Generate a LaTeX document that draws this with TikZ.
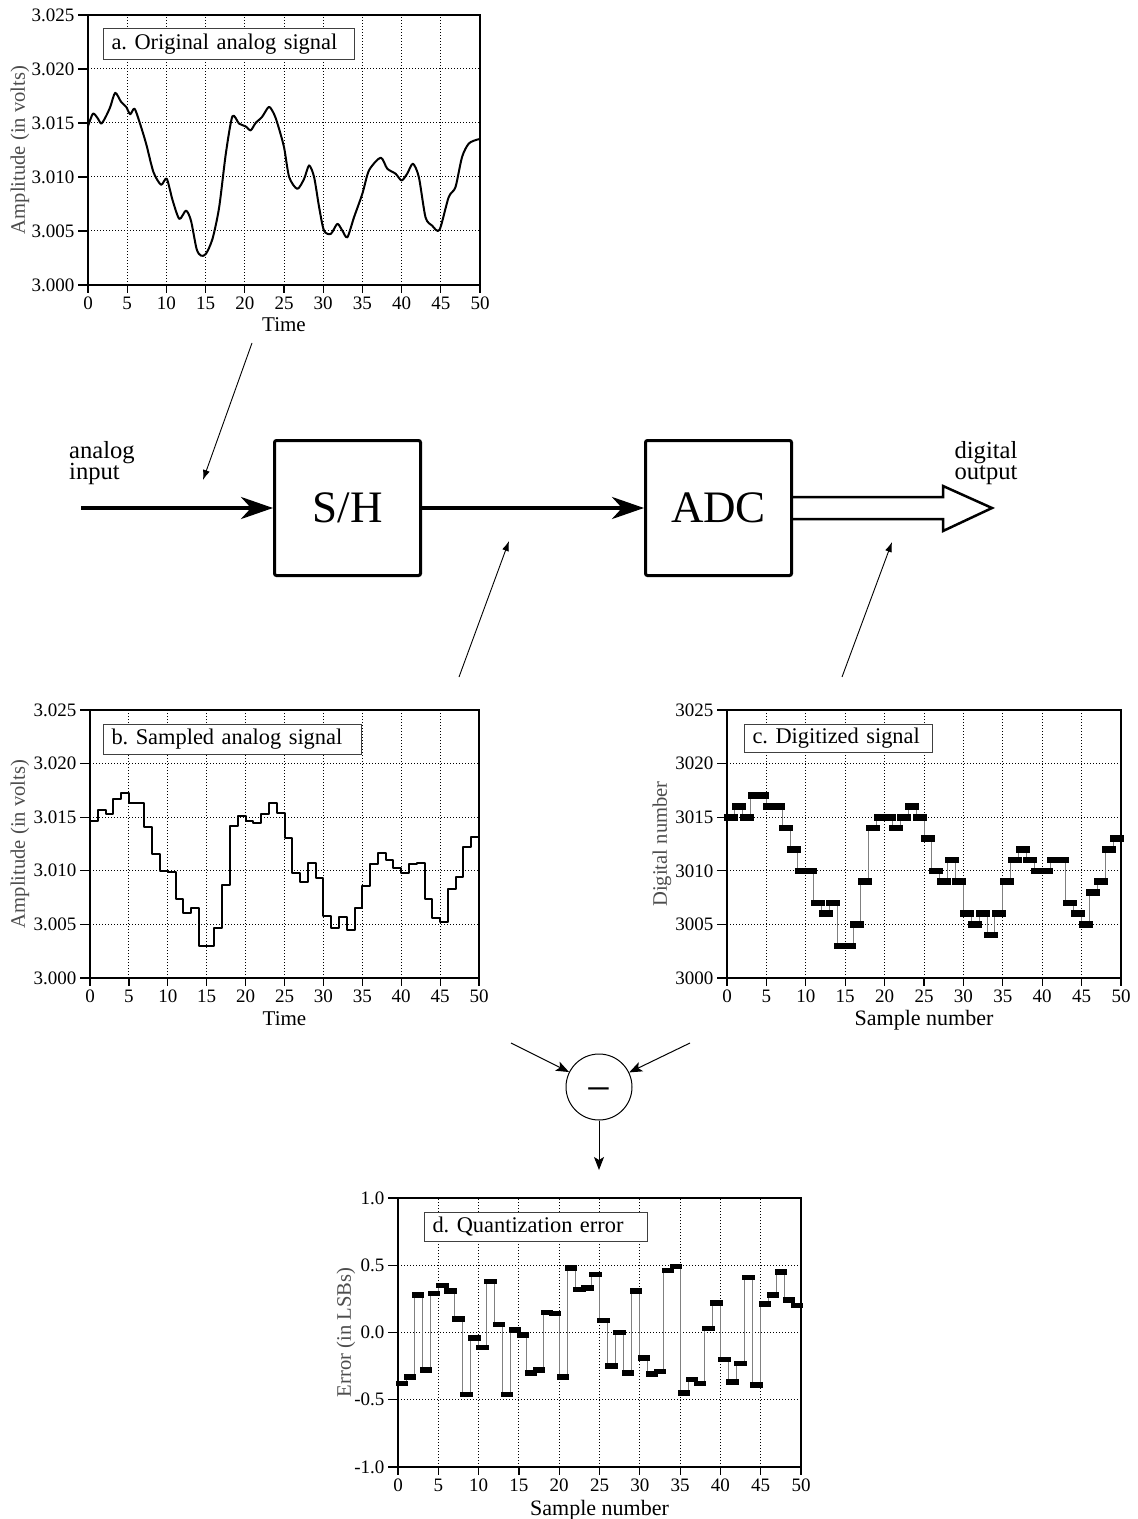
\documentclass[tikz,border=0pt]{standalone}
\usepackage{fontspec}
\setmainfont{Liberation Serif}
\usetikzlibrary{arrows.meta,positioning}
\frenchspacing

\begin{document}
\begin{tikzpicture}[x=0.5pt,y=-0.5pt]
\tikzset{
  axisframe/.style={line width=0.6pt},
  gridline/.style={line width=0.5pt,dash pattern=on 0.5pt off 1pt},
  ticklabel/.style={font=\fontsize{9.5}{10}\selectfont,inner sep=1.5pt},
  axislabel/.style={font=\fontsize{10.5}{12}\selectfont,anchor=base},
  ylabel/.style={font=\fontsize{10.3}{12}\selectfont,text=black!70,rotate=90},
  legend/.style={draw=black!75,fill=white,line width=0.5pt,anchor=north west,inner xsep=4pt,inner ysep=0pt,align=left,font=\fontsize{11.2}{13}\selectfont},
  signal/.style={line width=1pt,line join=round},
  stepgray/.style={line width=0.5pt,black!50},
  cbar/.style={fill,inner sep=0pt,minimum width=7pt,minimum height=3.3pt},
  dbar/.style={fill,inner sep=0pt,minimum width=6.2pt,minimum height=2.8pt},
  block/.style={draw,line width=1.5pt,rounded corners=1pt,minimum width=73pt,minimum height=67.5pt,inner sep=0pt,font=\fontsize{22.5}{24}\selectfont},
  iolabel/.style={align=left,inner sep=0pt,font=\fontsize{12.3}{10.8}\selectfont},
  wire/.style={line width=2pt,-{Stealth[length=16pt,width=11pt,inset=5pt]}},
  bus/.style={line width=1.25pt,line join=miter},
  pointer/.style={line width=0.45pt,-{Latex[length=5pt,width=3.5pt]}},
  subarrow/.style={line width=0.5pt,-{Stealth[length=6.5pt,width=5pt,inset=1.5pt]}}
}
% digital number (minus 3000) / quantization error, samples 0..49
\def\samples{15/-0.38,16/-0.33,15/0.28,17/-0.28,17/0.29,16/0.35,16/0.31,14/0.10,12/-0.46,10/-0.04,
10/-0.11,7/0.38,6/0.06,7/-0.46,3/0.02,3/-0.02,5/-0.30,9/-0.28,14/0.15,15/0.14,
15/-0.33,14/0.48,15/0.32,16/0.33,15/0.43,13/0.09,10/-0.25,9/0.00,11/-0.30,9/0.31,
6/-0.19,5/-0.31,6/-0.29,4/0.46,6/0.49,9/-0.45,11/-0.35,12/-0.38,11/0.03,10/0.22,
10/-0.20,11/-0.37,11/-0.23,7/0.41,6/-0.39,5/0.21,8/0.28,9/0.45,12/0.24,13/0.20}
\useasboundingbox (0,0) rectangle (1138,1519);

% a. original analog signal
\begin{scope}[shift={(88,285)},x=3.92pt,y=5.4pt]
\foreach \i in {5,10,...,45} \draw[gridline] (\i,0) -- (\i,25);
\foreach \j in {5,10,15,20} \draw[gridline] (0,\j) -- (50,\j);
\draw[axisframe] (0,0) rectangle (50,25);
\foreach \i in {0,5,...,50} \draw[axisframe] (\i,0) -- ++(0pt,-4pt) node[below,ticklabel] {\i};
\foreach \j/\lab in {0/3.000,5/3.005,10/3.010,15/3.015,20/3.020,25/3.025}
  \draw[axisframe] (0,\j) -- ++(-5pt,0pt) node[left,ticklabel] {\lab};
\draw[signal] plot[smooth,tension=0.45] coordinates {(0,14.7) (0.64,15.87) (1.27,15.4) (1.7,14.94)
  (2.25,15.56) (2.84,16.49) (3.47,17.79) (4.23,16.95) (4.87,16.49) (5.38,15.81) (5.93,16.33)
  (6.57,15.09) (7.41,13.09) (8.35,10.45) (9.32,9.28) (10.04,9.84) (10.8,7.82) (11.65,6.12)
  (12.5,6.89) (13.13,5.97) (13.85,3.34) (14.4,2.72) (15.03,2.87) (15.88,4.27) (16.73,7.2)
  (17.58,12.16) (18.42,15.62) (19.27,14.94) (20.1,14.69) (20.75,14.32) (21.38,15.0) (22.2,15.56)
  (23.07,16.49) (23.7,15.87) (24.17,14.94) (25.0,12.77) (25.66,9.99) (26.7,8.9) (27.57,9.84)
  (28.2,11.07) (28.84,9.99) (29.48,7.2) (30.1,5.04) (30.97,4.73) (31.8,5.66) (32.44,5.04)
  (33.08,4.42) (33.93,6.27) (34.99,8.44) (35.84,10.61) (37.33,11.79) (38.17,10.77) (39.24,10.3)
  (40.0,9.68) (40.71,10.3) (41.44,11.23) (42.2,9.99) (43.05,6.27) (43.89,5.5) (44.83,5.1)
  (46.0,8.13) (46.87,9.06) (47.71,11.85) (48.56,13.09) (49.62,13.46) (50,13.5)};
\node[axislabel,yshift=-23.5pt] (a_xlab) at (25,0) {Time};
\node[ylabel] (a_ylab) at ([xshift=-34pt]0,12.5) {Amplitude (in volts)};
\end{scope}
\node[legend,minimum height=15.5pt,text width=117.5pt] (a_leg) at (103,28) {\mbox{a. Original analog signal}};

% b. sampled analog signal
\begin{scope}[shift={(90,978)},x=3.89pt,y=5.36pt]
\foreach \i in {5,10,...,45} \draw[gridline] (\i,0) -- (\i,25);
\foreach \j in {5,10,15,20} \draw[gridline] (0,\j) -- (50,\j);
\draw[axisframe] (0,0) rectangle (50,25);
\foreach \i in {0,5,...,50} \draw[axisframe] (\i,0) -- ++(0pt,-4pt) node[below,ticklabel] {\i};
\foreach \j/\lab in {0/3.000,5/3.005,10/3.010,15/3.015,20/3.020,25/3.025}
  \draw[axisframe] (0,\j) -- ++(-5pt,0pt) node[left,ticklabel] {\lab};
\draw[signal] (0,14.62) foreach \dn/\er [count=\n from 0] in \samples
  { -- (\n,{\dn+(\er)}) -- ({\n+1},{\dn+(\er)}) };
\node[axislabel,yshift=-23.5pt] (b_xlab) at (25,0) {Time};
\node[ylabel] (b_ylab) at ([xshift=-35pt]0,12.5) {Amplitude (in volts)};
\end{scope}
\node[legend,minimum height=15pt,text width=121pt] (b_leg) at (103,724) {\mbox{b. Sampled analog signal}};

% c. digitized signal
\begin{scope}[shift={(727,978)},x=3.94pt,y=5.36pt]
\foreach \i in {5,10,...,45} \draw[gridline] (\i,0) -- (\i,25);
\foreach \j in {5,10,15,20} \draw[gridline] (0,\j) -- (50,\j);
\draw[axisframe] (0,0) rectangle (50,25);
\foreach \i in {0,5,...,50} \draw[axisframe] (\i,0) -- ++(0pt,-4pt) node[below,ticklabel] {\i};
\foreach \j/\lab in {0/3000,5/3005,10/3010,15/3015,20/3020,25/3025}
  \draw[axisframe] (0,\j) -- ++(-5pt,0pt) node[left,ticklabel] {\lab};
\draw[stepgray] (0,15) foreach \dn/\er [count=\n from 0] in \samples { -- (\n,\dn) -- ({\n+1},\dn) };
\foreach \dn/\er [count=\n from 0] in \samples \node[cbar] (c\n) at ({\n+0.5},\dn) {};
\node[axislabel,yshift=-23.5pt,font=\fontsize{11}{12}\selectfont] (c_xlab) at (25,0) {Sample number};
\node[ylabel] (c_ylab) at ([xshift=-32.5pt]0,12.5) {Digital number};
\end{scope}
\node[legend,minimum height=14pt,text width=86pt] (c_leg) at (744,724) {\mbox{c. Digitized signal}};

% block diagram
\node[block] (sh) at (347.5,508) {S/H};
\node[block] (adc) at (718.5,508) {ADC};
\coordinate (in) at (81,508);
\coordinate (out) at (992,508);
\draw[wire] (in) -- (sh);
\draw[wire] (sh) -- (adc);
\draw[bus] ([yshift=5.5pt]adc.east) -- ++(150,0) -- ++(0,-11) -- (out) -- ++(-49,23) -- ++(0,-12)
  -- ([yshift=-5.5pt]adc.east);
\node[iolabel] (inlab) at (102,463) {analog\\input};
\node[iolabel] (outlab) at (986,463) {digital\\output};
\coordinate (pa) at (252,343);
\coordinate (pa_tip) at (203,480);
\coordinate (pb) at (459,677);
\coordinate (pb_tip) at (509,541);
\coordinate (pc) at (842,677);
\coordinate (pc_tip) at (892,542);
\draw[pointer] (pa) -- (pa_tip);
\draw[pointer] (pb) -- (pb_tip);
\draw[pointer] (pc) -- (pc_tip);

% subtraction
\node[draw,circle,minimum size=33pt,line width=0.5pt,inner sep=0pt,text height=16pt,text depth=0pt,font=\fontsize{22}{22}\selectfont] (sub) at (599,1087) {−};
\coordinate (sb) at (511,1043);
\coordinate (sc) at (690,1043);
\coordinate (sd) at (599,1170);
\draw[subarrow] (sb) -- (sub);
\draw[subarrow] (sc) -- (sub);
\draw[subarrow] (sub) -- (sd);

% d. quantization error
\begin{scope}[shift={(398,1332.5)},x=4.03pt,y=67.25pt]
\foreach \i in {5,10,...,45} \draw[gridline] (\i,-1) -- (\i,1);
\foreach \j in {-0.5,0,0.5} \draw[gridline] (0,\j) -- (50,\j);
\draw[axisframe] (0,-1) rectangle (50,1);
\foreach \i in {0,5,...,50} \draw[axisframe] (\i,-1) -- ++(0pt,-4pt) node[below,ticklabel] {\i};
\foreach \j/\lab in {-1/-1.0,-0.5/-0.5,0/0.0,0.5/0.5,1/1.0}
  \draw[axisframe] (0,\j) -- ++(-5pt,0pt) node[left,ticklabel] {\lab};
\draw[stepgray] (0,-0.38) foreach \dn/\er [count=\n from 0] in \samples { -- (\n,\er) -- ({\n+1},\er) };
\foreach \dn/\er [count=\n from 0] in \samples \node[dbar] (d\n) at ({\n+0.5},\er) {};
\node[axislabel,yshift=-24pt,font=\fontsize{11}{12}\selectfont] (d_xlab) at (25,-1) {Sample number};
\node[ylabel] (d_ylab) at ([xshift=-26pt]0,0) {Error (in LSBs)};
\end{scope}
\node[legend,minimum height=14.5pt,text width=103.5pt] (d_leg) at (424,1212) {\mbox{d. Quantization error}};
\end{tikzpicture}
\end{document}
